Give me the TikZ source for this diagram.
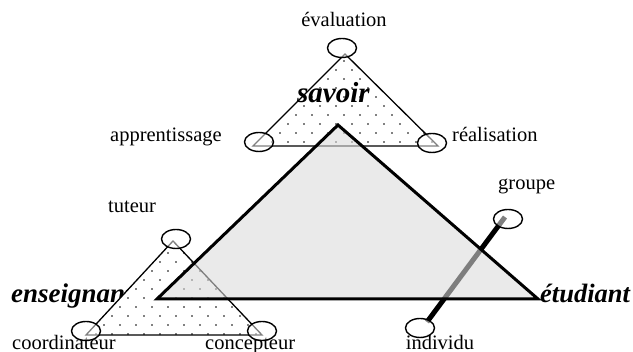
\documentclass[tikz,border=0pt]{standalone}
\usepackage{fontspec}
\setmainfont{Liberation Serif}
\usetikzlibrary{shapes.geometric}
\begin{document}
\begin{tikzpicture}[x=1pt,y=-1pt,
  lab/.style={inner sep=0pt,font=\fontsize{20.5}{22}\selectfont},
  role/.style={inner sep=0pt,font=\fontsize{26.5}{28}\selectfont\bfseries\itshape},
  bigtri/.style={fill={rgb,255:red,218;green,218;blue,218},fill opacity=0.58},
  bigedge/.style={draw=black,line width=3pt,line join=miter},
  oval/.style={draw=black,line width=1.4pt,fill=white,fill opacity=0.5,ellipse,minimum width=29pt,minimum height=19pt,inner sep=0pt},
  link/.style={draw=black,line width=5pt}
]
\useasboundingbox (0,0) rectangle (633,352);
% labels
\node[lab,anchor=base] (lev) at (344,27) {évaluation};
\node[lab,anchor=base west] (lapp) at (110,142) {apprentissage};
\node[lab,anchor=base west] (lrea) at (452,142) {réalisation};
\node[lab,anchor=base west] (ltut) at (108,213) {tuteur};
\node[lab,anchor=base west] (lcoo) at (12,350) {coordinateur};
\node[lab,anchor=base west] (lcon) at (205,350) {concepteur};
\node[lab,anchor=base west] (lgro) at (498,190) {groupe};
\node[lab,anchor=base] (lind) at (440,350) {individu};
\node[role,anchor=base west,font=\fontsize{27}{29}\selectfont\bfseries\itshape] (lens) at (11,303) {enseignant};
\node[role,anchor=base west] (letu) at (540,303) {étudiant};
% vertex coordinates
\coordinate (sA) at (345,54);
\coordinate (sL) at (253,146);
\coordinate (sR) at (438,146);
\coordinate (eA) at (173,241);
\coordinate (eL) at (86,335);
\coordinate (eR) at (262,335);
\coordinate (bA) at (338,125);
\coordinate (bL) at (157,299);
\coordinate (bR) at (538,299);
% small triangles
\foreach \a/\b/\c/\y in {sA/sL/sR/52, eA/eL/eR/244}{
  \fill[white] (\a) -- (\b) -- (\c) -- cycle;
  \begin{scope}
    \clip (\a) -- (\b) -- (\c) -- cycle;
    \foreach \j in {0,...,11}{
      \foreach \i in {0,...,40}{
        \fill[black] ({\i*16+mod(\j,2)*8}, {\j*9+\y}) circle (0.85);
      }
    }
  \end{scope}
  \draw[line width=1.3pt,line join=miter] (\a) -- (\b) -- (\c) -- cycle;
}
% groupe-individu link
\coordinate (gEnd) at (505,217);
\coordinate (iEnd) at (427,322);
\draw[link] (gEnd) -- (iEnd);
% big triangle
\fill[bigtri] (bA) -- (bL) -- (bR) -- cycle;
\draw[bigedge] (bA) -- (bL) -- (bR) -- cycle;
% ovals
\node[oval] (oev) at (342,48) {};
\node[oval] (oapp) at (259,142) {};
\node[oval] (orea) at (432,143) {};
\node[oval] (otut) at (176,239) {};
\node[oval] (ocoo) at (86,331) {};
\node[oval] (ocon) at (262,331) {};
\node[oval] (ogro) at (508,219) {};
\node[oval] (oind) at (420,328) {};
% savoir label
\node[role,anchor=base west,font=\fontsize{29}{31}\selectfont\bfseries\itshape] (lsav) at (297,103) {savoir};
\end{tikzpicture}
\end{document}
